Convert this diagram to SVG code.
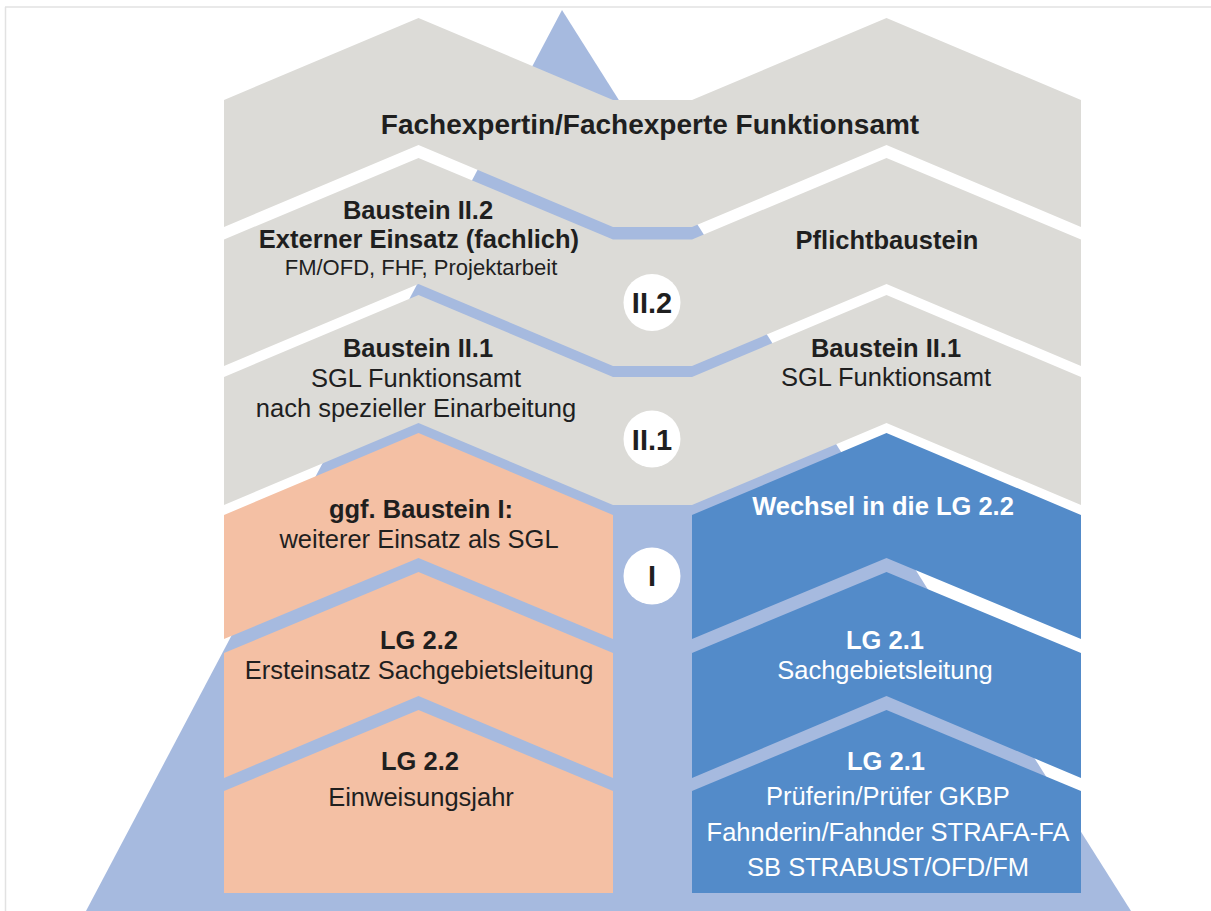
<svg xmlns="http://www.w3.org/2000/svg" width="1211" height="911" viewBox="0 0 1211 911">
<style>
.gray{fill:#dcdbd7}
.orange{fill:#f4c0a4}
.blue{fill:#538bc9}
.tri{fill:#a6badf}
.circ{fill:#ffffff}
text{font-family:"Liberation Sans",Arial,sans-serif;text-anchor:middle;fill:#1f1f1f;font-size:25.5px}
.b{font-weight:bold}
.w{fill:#ffffff}
.sm{font-size:22px}
.ttl{font-size:28px;font-weight:bold}
.num{font-size:29px;font-weight:bold}
</style>
<rect x="0" y="0" width="1211" height="911" fill="#ffffff"/>
<g id="frame" stroke="#e2e2e2" stroke-width="1.5" fill="none">
<line x1="5" y1="7" x2="1211" y2="7"/>
<line x1="5.5" y1="7" x2="5.5" y2="911"/>
</g>
<g id="pyramid">
<polygon class="tri" points="562,10 1131,911 86,911"/>
</g>
<g id="layer-fachexperte">
<polygon class="gray" points="224,100 418.5,18 613,100 692,100 886.5,18 1081,100 1081,227 886.5,145 692,227 613,227 418.5,145 224,227"/>
<text class="ttl" x="650" y="134">Fachexpertin/Fachexperte Funktionsamt</text>
</g>
<g id="layer-baustein-II2">
<polygon class="gray" points="224,239.5 418.5,158 613,239.5 692,239.5 886.5,158 1081,239.5 1081,366 886.5,284 692,366 613,366 418.5,284 224,366"/>
<text class="b" x="418" y="219">Baustein II.2</text>
<text class="b" x="419" y="248">Externer Einsatz (fachlich)</text>
<text class="sm" x="421" y="275">FM/OFD, FHF, Projektarbeit</text>
<text class="b" x="887" y="249">Pflichtbaustein</text>
</g>
<g id="layer-baustein-II1">
<polygon class="gray" points="224,377 418.5,295 613,377 692,377 886.5,295 1081,377 1081,505 886.5,423 692,505 613,505 418.5,423 224,505"/>
<text class="b" x="418" y="357">Baustein II.1</text>
<text x="416" y="387">SGL Funktionsamt</text>
<text x="416" y="417">nach spezieller Einarbeitung</text>
<text class="b" x="886" y="357">Baustein II.1</text>
<text x="886" y="386">SGL Funktionsamt</text>
</g>
<g id="box-baustein-I">
<polygon class="orange" points="224,515 418.5,433 613,515 613,639 418.5,558 224,639"/>
<text class="b" x="421" y="518">ggf. Baustein I:</text>
<text x="419" y="548">weiterer Einsatz als SGL</text>
</g>
<g id="box-lg22-sgl">
<polygon class="orange" points="224,653 418.5,572 613,653 613,778 418.5,696 224,778"/>
<text class="b" x="419" y="649">LG 2.2</text>
<text x="419" y="679">Ersteinsatz Sachgebietsleitung</text>
</g>
<g id="box-lg22-einweisung">
<polygon class="orange" points="224,791 418.5,710 613,791 613,893 224,893"/>
<text class="b" x="420" y="770">LG 2.2</text>
<text x="421" y="806">Einweisungsjahr</text>
</g>
<g id="box-wechsel">
<polygon class="blue" points="692,515 886.5,433 1081,515 1081,639 886.5,558 692,639"/>
<text class="b w" x="883" y="515">Wechsel in die LG 2.2</text>
</g>
<g id="box-lg21-sgl">
<polygon class="blue" points="692,653 886.5,572 1081,653 1081,778 886.5,696 692,778"/>
<text class="b w" x="885" y="649">LG 2.1</text>
<text class="w" x="885" y="679">Sachgebietsleitung</text>
</g>
<g id="box-lg21-pruefer">
<polygon class="blue" points="692,791 886.5,710 1081,791 1081,893 692,893"/>
<text class="b w" x="886" y="770">LG 2.1</text>
<text class="w" x="888" y="805">Prüferin/Prüfer GKBP</text>
<text class="w" x="888" y="841">Fahnderin/Fahnder STRAFA-FA</text>
<text class="w" x="888" y="876">SB STRABUST/OFD/FM</text>
</g>
<g id="marker-II2">
<circle class="circ" cx="652" cy="302.5" r="28.5"/>
<text class="num" x="652" y="313">II.2</text>
</g>
<g id="marker-II1">
<circle class="circ" cx="652" cy="439" r="28.5"/>
<text class="num" x="652" y="450">II.1</text>
</g>
<g id="marker-I">
<circle class="circ" cx="652" cy="576" r="28.5"/>
<text class="num" x="652" y="586">I</text>
</g>
<g id="connectors"></g>
</svg>
